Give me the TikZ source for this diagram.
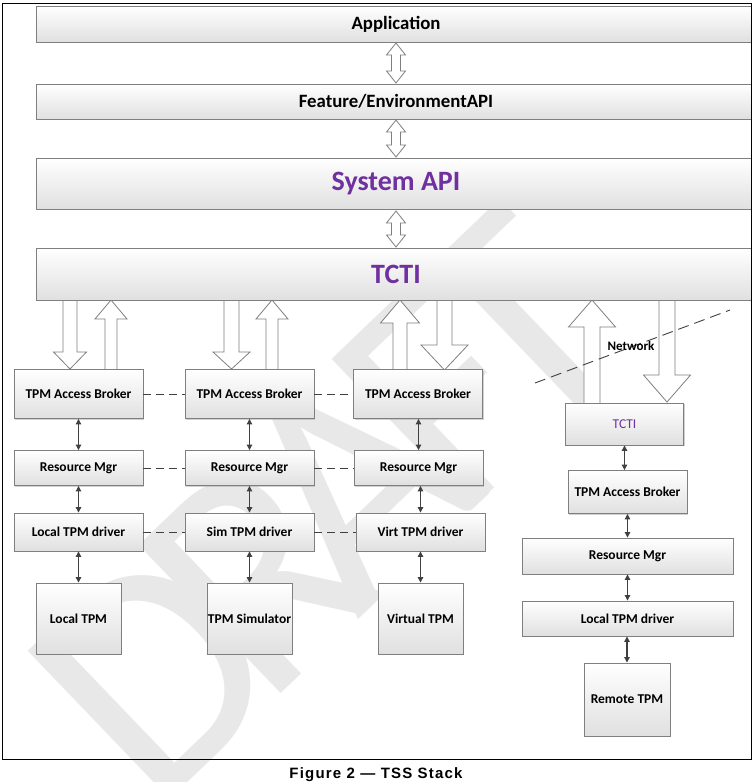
\documentclass[tikz,border=0pt]{standalone}
\usepackage{fontspec}
\setmainfont{Carlito}
\newfontfamily\capfont[LetterSpace=8]{Liberation Sans}
\newfontfamily\wmfont[LetterSpace=-14]{Carlito}
\usetikzlibrary{arrows.meta,shadows,calc}
\definecolor{tpurple}{HTML}{7030A0}
\definecolor{boxline}{HTML}{7F7F7F}
\definecolor{boxbot}{HTML}{E0E0E0}
\definecolor{arrdark}{HTML}{404040}
\definecolor{wmark}{HTML}{E8E8E8}
\newcommand{\dnblk}[6]{%
 \draw[blk] (#1-#4,#2) -- (#1-#4,#3-#6) -- (#1-#5,#3-#6) -- (#1,#3) -- (#1+#5,#3-#6) -- (#1+#4,#3-#6) -- (#1+#4,#2);}
\newcommand{\upblk}[6]{%
 \draw[blk] (#1-#4,#3) -- (#1-#4,#2+#6) -- (#1-#5,#2+#6) -- (#1,#2) -- (#1+#5,#2+#6) -- (#1+#4,#2+#6) -- (#1+#4,#3);}
\newcommand{\dblblk}[6]{%
 \draw[blk] (#1,#2) -- (#1+#5,#2+#6) -- (#1+#4,#2+#6) -- (#1+#4,#3-#6) -- (#1+#5,#3-#6) -- (#1,#3) -- (#1-#5,#3-#6) -- (#1-#4,#3-#6) -- (#1-#4,#2+#6) -- (#1-#5,#2+#6) -- cycle;}
\begin{document}
\begin{tikzpicture}[x=1pt,y=-1pt,
  box/.style={draw=boxline, line width=0.9pt, top color=white, bottom color=boxbot,
    inner sep=0pt, font=\bfseries\fontsize{13.5}{15}\selectfont,
    drop shadow={shadow xshift=1.2pt,shadow yshift=-1.2pt,fill=gray!60,opacity=0.6}},
  wide/.style={box, minimum width=720pt},
  blk/.style={draw=boxline, fill=white, line width=0.8pt, line join=miter},
  dbl/.style={draw=arrdark, line width=1.1pt, arrows={Triangle[length=5.5pt,width=5.5pt]-Triangle[length=5.5pt,width=5.5pt]}},
  peer/.style={draw=arrdark, line width=0.9pt, dash pattern=on 8pt off 5pt},
  netdash/.style={draw=arrdark, line width=0.9pt, dash pattern=on 11pt off 6pt}
]
\useasboundingbox (0,0) rectangle (752,782);
% watermark
\begin{scope}
\clip (0,0) rectangle (752,782);
\node[rotate=43.8, anchor=base west, inner sep=0pt, text=wmark, font=\wmfont\fontsize{320}{320}\selectfont] (wm) at (154,815) {DRAFT};
\end{scope}

% block arrows
\dblblk{396}{43}{83}{4.5}{9.5}{12}
\dblblk{396}{120}{157}{4.5}{9.5}{12}
\dblblk{396}{211}{247}{4.5}{9.5}{12}
\dnblk{70}{300}{369}{7}{16.5}{17}
\upblk{111}{300}{369}{6}{16}{19}
\dnblk{231.5}{300}{369}{7.5}{18.5}{17}
\upblk{272}{300}{369}{6}{16}{19}
\upblk{400}{300}{370}{7}{19.5}{23}
\dnblk{444.5}{300}{370}{7.5}{23.5}{25}
\upblk{592}{300}{403}{8}{23.5}{27}
\dnblk{667}{300}{402}{8}{23.5}{27}

% top stack
\node[wide, minimum height=36pt, font=\bfseries\fontsize{18.8}{20}\selectfont] (app) at (396,24) {Application};
\node[wide, minimum height=35pt, font=\bfseries\fontsize{18.8}{20}\selectfont] (feat) at (396,101.5) {Feature/EnvironmentAPI};
\node[wide, minimum height=51pt, font=\bfseries\fontsize{28}{30}\selectfont, text=tpurple] (sys) at (396,183.5) {System API};
\node[wide, minimum height=52pt, font=\bfseries\fontsize{28}{30}\selectfont, text=tpurple] (tcti) at (396,274) {TCTI};

% column 1
\node[box, minimum width=129pt, minimum height=49pt] (tab1) at (78.5,394) {TPM Access Broker};
\node[box, minimum width=129pt, minimum height=35pt] (rm1) at (78.5,468) {Resource Mgr};
\node[box, minimum width=129pt, minimum height=38pt] (drv1) at (78.5,532) {Local TPM driver};
\node[box, minimum width=85pt, minimum height=71pt] (tpm1) at (78.5,618.5) {Local TPM};
% column 2
\node[box, minimum width=129pt, minimum height=49pt] (tab2) at (249.5,394) {TPM Access Broker};
\node[box, minimum width=129pt, minimum height=35pt] (rm2) at (249.5,468) {Resource Mgr};
\node[box, minimum width=129pt, minimum height=38pt] (drv2) at (249.5,532) {Sim TPM driver};
\node[box, minimum width=85pt, minimum height=71pt] (tpm2) at (249.5,618.5) {TPM Simulator};
% column 3
\node[box, minimum width=129pt, minimum height=49pt] (tab3) at (418,394) {TPM Access Broker};
\node[box, minimum width=129pt, minimum height=35pt] (rm3) at (418.5,468) {Resource Mgr};
\node[box, minimum width=129pt, minimum height=38pt] (drv3) at (420.5,532) {Virt TPM driver};
\node[box, minimum width=85pt, minimum height=71pt] (tpm3) at (420.5,618.5) {Virtual TPM};
% remote column
\node[box, minimum width=118pt, minimum height=42pt, font=\fontsize{13.5}{15}\selectfont, text=tpurple] (rtcti) at (624.5,424) {TCTI};
\node[box, minimum width=119pt, minimum height=43pt] (rtab) at (627.5,492) {TPM Access Broker};
\node[box, minimum width=211pt, minimum height=36pt] (rrm) at (627.5,556) {Resource Mgr};
\node[box, minimum width=211pt, minimum height=35pt] (rdrv) at (627.5,618.5) {Local TPM driver};
\node[box, minimum width=86pt, minimum height=73pt] (rtpm) at (627,699.5) {Remote TPM};

% peer dashed links
\draw[peer] (tab1.east) -- (tab2.west);
\draw[peer] (tab2.east) -- (tab3.west);
\draw[peer] (rm1.east) -- (rm2.west);
\draw[peer] (rm2.east) -- (rm3.west);
\draw[peer] (drv1.east) -- (drv2.west);
\draw[peer] (drv2.east) -- (drv3.west);

% small double arrows
\foreach \a/\b in {tab1/rm1, rm1/drv1, drv1/tpm1, tab2/rm2, rm2/drv2, drv2/tpm2, tab3/rm3, rm3/drv3, drv3/tpm3, rtab/rrm, rrm/rdrv, rdrv/rtpm}
  \draw[dbl] (\b.north |- \a.south) -- (\b.north);
\draw[dbl] (rtcti.south) -- (rtcti.south |- rtab.north);

% network
\coordinate (n1) at (535,383);
\coordinate (n2) at (730,310);
\draw[netdash] (n1) -- (n2);
\node[font=\bfseries\fontsize{13}{15}\selectfont] (net) at (631,346) {Network};

% frame and caption
\draw[line width=1pt] (2,3) rectangle (751,759);
\node[font=\capfont\bfseries\fontsize{15}{17}\selectfont] (cap) at (376,775) {Figure 2 — TSS Stack};
\end{tikzpicture}
\end{document}
